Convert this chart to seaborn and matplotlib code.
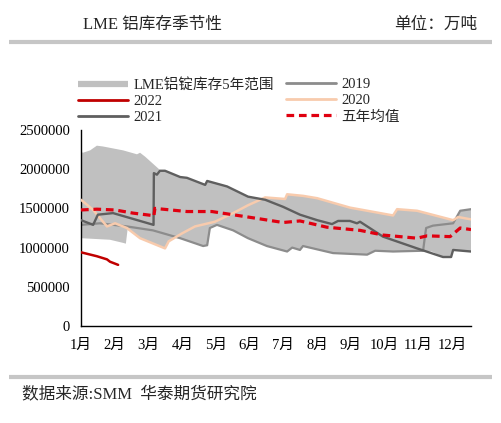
import numpy as np
import pandas as pd
import matplotlib.pyplot as plt
import seaborn as sns
from matplotlib.lines import Line2D
from matplotlib.ticker import StrMethodFormatter

# x = month position (0 = 1月), values in tonnes
month_labels = ['1月', '2月', '3月', '4月', '5月', '6月', '7月', '8月', '9月', '10月', '11月', '12月']

# 5-year range band (upper / lower edge)
band_hi_x = [0, 0.06, 0.27, 0.47, 0.65, 1.25, 1.66, 1.75, 1.90, 2.34, 2.43, 2.49, 2.94, 3.14, 3.68, 3.74,
             4.33, 4.95, 5.30, 5.46, 6.05, 6.11, 6.58, 7.00, 7.97, 9.25, 9.37, 9.96, 11.03, 11.15, 11.24, 11.56]
band_hi_v = [2220000, 2210000, 2240000, 2300000, 2290000, 2240000, 2190000, 2210000, 2160000, 1990000,
             1980000, 1980000, 1900000, 1890000, 1800000, 1850000, 1780000, 1650000, 1630000, 1640000,
             1620000, 1680000, 1660000, 1630000, 1510000, 1410000, 1490000, 1470000, 1350000, 1400000,
             1470000, 1490000]
band_lo_x = [0, 0.86, 1.25, 1.33, 1.38, 1.75, 2.49, 2.60, 2.79, 2.94, 3.62, 3.74, 3.82, 4.03, 4.51, 4.95,
             5.51, 6.11, 6.26, 6.49, 6.58, 7.47, 8.48, 8.72, 9.25, 10.14, 10.40, 10.73, 10.97, 11.03, 11.56]
band_lo_v = [1120000, 1100000, 1060000, 1050000, 1230000, 1120000, 990000, 1080000, 1140000, 1120000,
             1020000, 1030000, 1250000, 1290000, 1220000, 1120000, 1020000, 950000, 1000000, 970000,
             1020000, 930000, 910000, 960000, 950000, 950000, 950000, 880000, 880000, 970000, 950000]

x_2019 = [0, 0.56, 1.36, 2.13, 2.94, 3.62, 3.74, 3.82, 4.03, 4.51, 4.95, 5.51, 6.11, 6.26, 6.49, 6.58,
          7.47, 8.48, 8.72, 9.25, 10.14, 10.20, 10.23, 10.43, 11.03, 11.24, 11.56]
v_2019 = [1290000, 1310000, 1270000, 1220000, 1120000, 1020000, 1030000, 1250000, 1290000, 1220000,
          1120000, 1020000, 950000, 1000000, 970000, 1020000, 930000, 910000, 960000, 950000, 960000,
          1160000, 1250000, 1280000, 1310000, 1470000, 1490000]

x_2020 = [0, 0.36, 0.77, 1.01, 1.36, 1.75, 2.49, 2.60, 2.99, 3.38, 3.97, 4.51, 4.95, 5.46, 6.05, 6.11,
          6.58, 7.00, 7.97, 9.25, 9.37, 9.96, 11.03, 11.18, 11.56]
v_2020 = [1610000, 1480000, 1270000, 1310000, 1250000, 1120000, 990000, 1080000, 1180000, 1270000,
          1330000, 1440000, 1540000, 1640000, 1620000, 1680000, 1660000, 1630000, 1510000, 1410000,
          1490000, 1470000, 1350000, 1390000, 1360000]

x_2021 = [0, 0.36, 0.50, 0.95, 2.15, 2.16, 2.25, 2.34, 2.49, 2.94, 3.14, 3.68, 3.74, 4.33, 4.95, 5.46,
          5.99, 6.49, 7.00, 7.44, 7.62, 7.97, 8.18, 8.27, 8.95, 9.96, 10.73, 10.97, 11.03, 11.56]
v_2021 = [1350000, 1290000, 1420000, 1440000, 1290000, 1950000, 1930000, 1980000, 1980000, 1900000,
          1890000, 1800000, 1850000, 1780000, 1650000, 1610000, 1520000, 1420000, 1350000, 1300000,
          1340000, 1340000, 1310000, 1330000, 1140000, 990000, 880000, 880000, 970000, 950000]

x_2022 = [0, 0.47, 0.77, 0.86, 1.10]
v_2022 = [940000, 890000, 850000, 820000, 780000]

x_mean = [0, 0.47, 1.01, 1.54, 2.10, 2.16, 2.19, 3.14, 3.88, 4.95, 5.99, 6.49, 7.29, 8.27, 8.95, 9.96,
          10.26, 10.94, 11.24, 11.56]
v_mean = [1480000, 1490000, 1480000, 1440000, 1410000, 1400000, 1500000, 1460000, 1460000, 1390000,
          1320000, 1340000, 1260000, 1220000, 1160000, 1120000, 1150000, 1140000, 1250000, 1230000]

# colours
c_band = '#c0c0c0'
c_2019 = '#8c8c8c'
c_2020 = '#f8cbad'
c_2021 = '#5f5f5f'
c_2022 = '#c00000'
c_mean = '#e00010'

sns.set_style('white')
plt.rcParams['font.family'] = ['Liberation Serif', 'Noto Sans CJK SC']
plt.rcParams['axes.unicode_minus'] = False

W, H = 502, 423
fig = plt.figure(figsize=(W / 100, H / 100), dpi=100)
ax = fig.add_axes([81 / W, 1 - 326 / H, 390 / W, 196 / H])

# band as polygon
poly_x = np.concatenate([band_hi_x, band_lo_x[::-1]])
poly_y = np.concatenate([band_hi_v, band_lo_v[::-1]])
ax.fill(poly_x, poly_y, color=c_band, lw=0, zorder=1)

sns.lineplot(x=x_2019, y=v_2019, color=c_2019, lw=1.6, ax=ax, zorder=2)
sns.lineplot(x=x_2020, y=v_2020, color=c_2020, lw=1.8, ax=ax, zorder=3)
sns.lineplot(x=x_2021, y=v_2021, color=c_2021, lw=1.7, ax=ax, zorder=4)
sns.lineplot(x=x_2022, y=v_2022, color=c_2022, lw=1.8, ax=ax, zorder=5)
sns.lineplot(x=x_mean, y=v_mean, color=c_mean, lw=2.3, linestyle=(0, (2.4, 1.5)), ax=ax, zorder=6)

ax.set_xlim(0, 11.56)
ax.set_ylim(0, 2500000)
ax.set_xticks(range(12))
ax.set_xticklabels(month_labels)
ax.set_yticks(np.arange(0, 2500001, 500000))
ax.yaxis.set_major_formatter(StrMethodFormatter('{x:.0f}'))
ax.tick_params(axis='y', length=0, pad=8, labelsize=10.5, colors='black')
ax.tick_params(axis='x', length=3, width=0.8, direction='out', pad=6, labelsize=10.5, colors='black')
ax.set_xlabel('')
ax.set_ylabel('')

for s in ['top', 'right']:
    ax.spines[s].set_visible(False)
for s in ['left', 'bottom']:
    ax.spines[s].set_color('black')
    ax.spines[s].set_linewidth(1.0)

# legend in two columns
h_band = Line2D([], [], color=c_band, lw=4.5, solid_capstyle='butt')
h_2022 = Line2D([], [], color=c_2022, lw=2)
h_2021 = Line2D([], [], color=c_2021, lw=2)
h_2019 = Line2D([], [], color=c_2019, lw=2)
h_2020 = Line2D([], [], color=c_2020, lw=2)
h_mean = Line2D([], [], color=c_mean, lw=2.3, linestyle=(0, (2.4, 1.5)))

leg_kw = dict(loc='upper left', frameon=False, fontsize=10.5, handlelength=3.4, handletextpad=0.4,
              labelspacing=0.2, borderpad=0, borderaxespad=0)
fig.legend([h_band, h_2022, h_2021], ['LME铝锭库存5年范围', '2022', '2021'],
           bbox_to_anchor=(78 / W, 1 - 78 / H), **leg_kw)
fig.legend([h_2019, h_2020, h_mean], ['2019', '2020', '五年均值'],
           bbox_to_anchor=(286 / W, 1 - 78 / H), **leg_kw)

# header / footer
fig.text(83 / W, 1 - 25 / H, 'LME 铝库存季节性', fontsize=12, ha='left', va='center')
fig.text(477 / W, 1 - 25 / H, '单位：万吨', fontsize=12, ha='right', va='center')
fig.add_artist(Line2D([9 / W, 492 / W], [1 - 42 / H, 1 - 42 / H], transform=fig.transFigure,
                      color='#c6c6c6', lw=3, solid_capstyle='butt'))
fig.add_artist(Line2D([9 / W, 492 / W], [1 - 377 / H, 1 - 377 / H], transform=fig.transFigure,
                      color='#c6c6c6', lw=3, solid_capstyle='butt'))
fig.text(22 / W, 1 - 394 / H, '数据来源:SMM  华泰期货研究院', fontsize=12, ha='left', va='center')

fig.savefig('out.png', dpi=100)
